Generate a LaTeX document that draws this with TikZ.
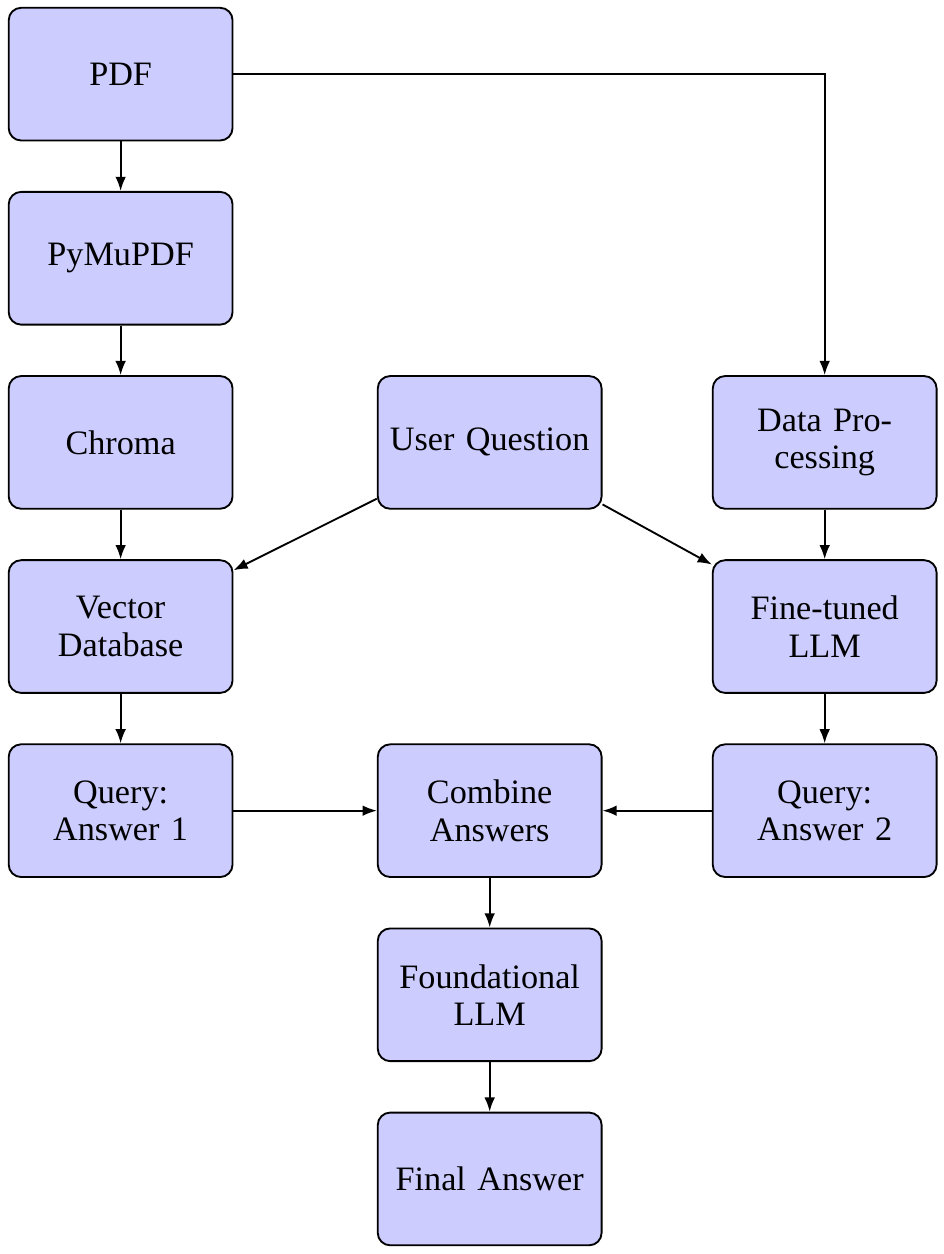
\documentclass[tikz,border=0pt]{standalone}
\usepackage{fontspec}
\setmainfont{Liberation Serif}
\usetikzlibrary{positioning, arrows.meta, calc}
\tikzset{
    stage/.style={
        draw, rectangle, rounded corners, fill=blue!20,
        minimum width=2.53cm, minimum height=1.5cm,
        text width=2.35cm, inner sep=2pt, align=center,
        font=\fontsize{11}{12}\selectfont
    },
    flow/.style={-{Latex[length=1.6mm, width=1.2mm]}}
}

\begin{document}
\begin{tikzpicture}[node distance=0.56cm, semithick]
    \node[stage] (pdf) {PDF};
    \node[stage, below=of pdf] (pymupdf) {PyMuPDF};
    \node[stage, below=of pymupdf] (chroma) {Chroma};
    \node[stage, right=1.62cm of chroma] (question) {User Question};
    \node[stage, right=1.235cm of question] (dataproc) {Data Processing};
    \node[stage, below=of chroma] (vectordb) {Vector Database};
    \node[stage, below=of dataproc] (finetuned) {Fine-tuned LLM};
    \node[stage, below=of vectordb] (answerone) {Query: Answer 1};
    \node[stage, below=of finetuned] (answertwo) {Query: Answer 2};
    \node[stage, right=1.62cm of answerone] (combine) {Combine Answers};
    \node[stage, below=of combine] (foundational) {Foundational LLM};
    \node[stage, below=of foundational] (final) {Final Answer};

    \draw[flow] (pdf) -- (pymupdf);
    \draw[flow] (pymupdf) -- (chroma);
    \draw[flow] (chroma) -- (vectordb);
    \draw[flow] (vectordb) -- (answerone);
    \draw[flow] (pdf) -| (dataproc);
    \draw[flow] (dataproc) -- (finetuned);
    \draw[flow] (finetuned) -- (answertwo);
    \draw[flow] (question) -- (vectordb);
    \draw[flow] (question) -- (finetuned);
    \draw[flow] (answerone) -- (combine);
    \draw[flow] (answertwo) -- (combine);
    \draw[flow] (combine) -- (foundational);
    \draw[flow] (foundational) -- (final);

    \useasboundingbox ($(pdf.north west)+(-2.5pt,2.2pt)$)
        rectangle ($(final.south -| dataproc.east)+(1.9pt,-2.5pt)$);
\end{tikzpicture}
\end{document}
